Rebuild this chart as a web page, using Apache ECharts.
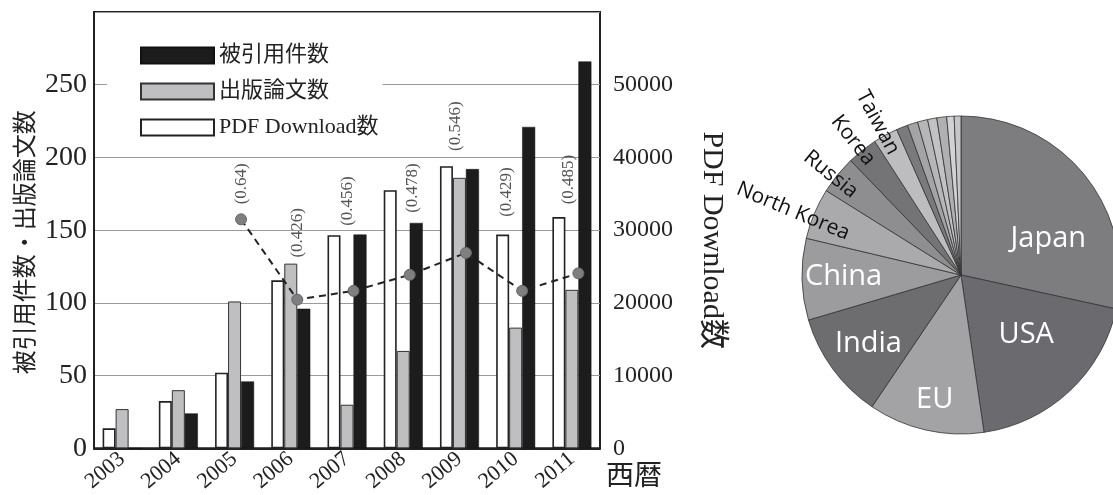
<!DOCTYPE html>
<html><head><meta charset="utf-8">
<script src="https://cdn.jsdelivr.net/npm/echarts@6/dist/echarts.min.js"></script>
<style>html,body{margin:0;padding:0;background:#fff;}#c{width:1113px;height:495px;}</style>
</head><body><div id="c"></div>
<script>
// ---- data ----
const years = ['2003','2004','2005','2006','2007','2008','2009','2010','2011'];
const citations = [0, 24, 46, 96, 147, 155, 192, 221, 266];          // 被引用件数 (left axis)
const papers = [27, 40, 101, 127, 30, 67, 186, 83, 109];             // 出版論文数 (left axis)
const downloads = [2750, 6500, 10400, 23100, 29300, 35500, 38800, 29400, 31800]; // PDF Download数 (right axis)
const ratioPoints = [null, null, 158, 103, 109, 120, 135, 109, 121]; // dashed-line point heights (left axis units)
const ratioLabels = [null, null, '0.64', '0.426', '0.456', '0.478', '0.546', '0.429', '0.485'];
const leftTicks = [0, 50, 100, 150, 200, 250];
const rightTicks = [0, 10000, 20000, 30000, 40000, 50000];

const countries = ['Japan','USA','EU','India','China','North Korea','Russia','Korea','Taiwan','o1','o2','o3','o4','o5','o6','o7'];
const shares = [28.5, 19.3, 11.8, 11.0, 8.3, 5.2, 3.9, 3.1, 2.5, 1.17, 1.06, 1.03, 0.94, 1.0, 0.75, 0.69];

// ---- styles ----
const pieColors = ['#7d7d80','#6b6b6f','#a3a3a6','#6d6d70','#9c9c9f','#aaaaac','#8e8e91','#747477','#bdbdc0',
                   '#7a7a7d','#a4a4a7','#b6b6b9','#c2c2c5','#b0b0b3','#d2d2d5','#c6c6c9'];
const insideNames = ['Japan','USA','EU','India','China'];
const outsideNames = ['North Korea','Russia','Korea','Taiwan'];
// label shifts (in the label's own, possibly rotated, frame)
const pieLabelShift = [[23,15],[9,-1],[-8,44],[-26,20],[-35,0],[-97,6],[-82,4],[-90,1],[-91,1]];
// screen-space shifts of the rotated ratio labels relative to their points
const ratioLabelShift = [null, null, [0,-15],[0,-42],[-6,-65],[3,-62],[-10,-102],[-16,-74],[-10,-69]];

const SERIF = '"Liberation Serif","Noto Sans CJK JP",serif';
const CJK = '"Noto Sans CJK JP","Noto Sans",sans-serif';
const SANS = '"Open Sans","Noto Sans",sans-serif';

const chart = echarts.init(document.getElementById('c'), null, {renderer: 'canvas'});

const lineData = ratioPoints.map((v, i) => {
  if (v == null) return null;
  const s = ratioLabelShift[i];
  return {
    value: v,
    label: {
      show: true,
      formatter: '(' + ratioLabels[i] + ')',
      position: 'inside',
      rotate: 90,
      align: 'left',
      verticalAlign: 'middle',
      offset: [-s[1], s[0]],   // label frame is rotated 90° CCW
      fontFamily: SERIF,
      fontSize: 17,
      color: '#555'
    }
  };
});

const pieData = countries.map((n, i) => {
  const item = { name: n, value: shares[i], itemStyle: { color: pieColors[i] } };
  if (insideNames.indexOf(n) >= 0) {
    item.label = { show: true, position: 'inside', color: '#fff', fontSize: 29, fontFamily: SANS };
  } else if (outsideNames.indexOf(n) >= 0) {
    item.label = { show: true, position: 'inside', rotate: 'radial', color: '#111', fontSize: 21, fontFamily: SANS };
  } else {
    item.label = { show: false };
  }
  return item;
});

const option = {
  animation: false,
  backgroundColor: '#fff',
  legend: {
    data: ['被引用件数', '出版論文数', 'PDF Download数'],
    orient: 'vertical',
    left: 107, top: 35,
    padding: [8, 4, 8, 33],
    backgroundColor: '#fff',
    itemWidth: 73, itemHeight: 16, itemGap: 11,
    icon: 'rect',
    textStyle: { fontFamily: SERIF, fontSize: 22, color: '#222', lineHeight: 25 }
  },
  grid: [
    { left: 94, right: 513, top: 12, bottom: 45, show: true, borderColor: '#222', borderWidth: 2, backgroundColor: 'transparent' },
    { left: 100.5, right: 506.5, top: 12, bottom: 45 }
  ],
  xAxis: [
    {
      type: 'category', data: years, gridIndex: 0,
      axisLine: { lineStyle: { color: '#222', width: 2 } },
      axisTick: { show: false },
      axisLabel: { rotate: 40, fontFamily: SERIF, fontSize: 22, color: '#222', margin: 8, interval: 0 },
      name: '西暦', nameLocation: 'end', nameGap: 6,
      nameTextStyle: { fontFamily: CJK, fontSize: 28, color: '#222', align: 'left', verticalAlign: 'top', padding: [12, 0, 0, 0] }
    },
    { type: 'category', data: years, gridIndex: 1, show: false }
  ],
  yAxis: [
    {
      type: 'value', gridIndex: 0, min: 0, max: 300, interval: 50,
      axisLine: { show: true, lineStyle: { color: '#222', width: 2 } },
      axisTick: { show: false },
      axisLabel: { fontFamily: SERIF, fontSize: 28, color: '#222', margin: 7, showMaxLabel: false,
                   formatter: v => leftTicks.indexOf(v) >= 0 ? String(v) : '' },
      splitLine: { lineStyle: { color: '#9a9a9a', width: 1 } },
      name: '被引用件数・出版論文数', nameLocation: 'middle', nameGap: 58, nameRotate: 90,
      nameTextStyle: { fontFamily: CJK, fontSize: 24, color: '#222', padding: [0, 24, 0, 0] }
    },
    {
      type: 'value', gridIndex: 0, min: 0, max: 60000, interval: 10000, position: 'right',
      axisLine: { show: false },
      axisTick: { show: false },
      axisLabel: { fontFamily: SERIF, fontSize: 24, color: '#222', margin: 13, showMaxLabel: false,
                   formatter: v => rightTicks.indexOf(v) >= 0 ? String(v) : '' },
      splitLine: { show: false },
      name: 'PDF Download数', nameLocation: 'middle', nameGap: 97, nameRotate: -90,
      nameTextStyle: { fontFamily: SERIF, fontSize: 30, color: '#222', padding: [0, 0, 0, 20] }
    },
    { type: 'value', gridIndex: 1, min: 0, max: 300, show: false }
  ],
  series: [
    {
      name: 'PDF Download数', type: 'bar', xAxisIndex: 0, yAxisIndex: 1, data: downloads,
      barWidth: 13, barGap: '0%',
      itemStyle: { color: '#ffffff', borderColor: '#222', borderWidth: 1.6 }
    },
    {
      name: '出版論文数', type: 'bar', xAxisIndex: 0, yAxisIndex: 0, data: papers,
      barWidth: 13, barGap: '0%',
      itemStyle: { color: '#bfbfc1', borderColor: '#333', borderWidth: 1 }
    },
    {
      name: '被引用件数', type: 'bar', xAxisIndex: 0, yAxisIndex: 0, data: citations,
      barWidth: 13, barGap: '0%',
      itemStyle: { color: '#1c1c1c', borderColor: '#111', borderWidth: 0.5 }
    },
    {
      name: 'ratio', type: 'line', xAxisIndex: 1, yAxisIndex: 2, data: lineData,
      connectNulls: false,
      symbol: 'circle', symbolSize: 11,
      lineStyle: { color: '#222', width: 2, type: [7, 5] },
      itemStyle: { color: '#7f7f82', borderColor: '#666', borderWidth: 1 },
      z: 5
    },
    {
      name: 'countries', type: 'pie', center: [961, 275], radius: 159,
      startAngle: 90, clockwise: true, avoidLabelOverlap: false,
      minShowLabelAngle: 0,
      labelLine: { show: false },
      itemStyle: { borderColor: '#333', borderWidth: 0.8 },
      data: pieData,
      labelLayout: function (p) {
        const s = pieLabelShift[p.dataIndex];
        return s ? { dx: s[0], dy: s[1] } : {};
      }
    }
  ]
};
chart.setOption(option);
</script>
</body></html>
